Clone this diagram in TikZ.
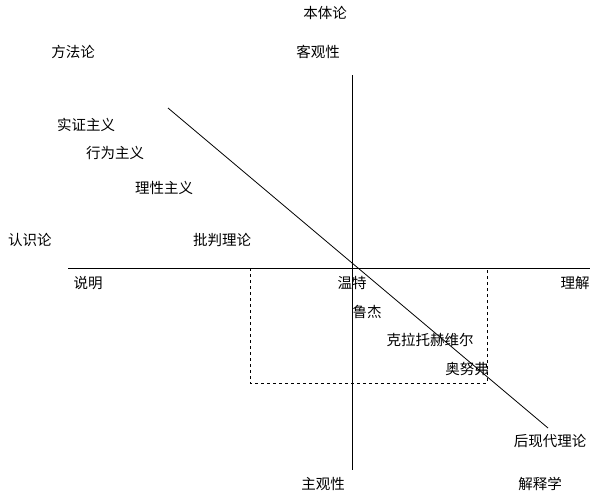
\documentclass[tikz,border=0pt]{standalone}
\usepackage{fontspec}
\newfontfamily\cjk{Noto Sans CJK SC}
\begin{document}
\begin{tikzpicture}[x=1pt,y=-1pt,lbl/.style={font=\cjk\fontsize{14.5}{16}\selectfont,inner sep=0pt}]
\useasboundingbox[fill=white] (0,0) rectangle (602,495);
\coordinate (vt) at (352,75); \coordinate (vb) at (352,470);
\coordinate (hl) at (68,268); \coordinate (hr) at (590,268);
\coordinate (d1) at (168,108); \coordinate (d2) at (548,428);
\draw[thick] (vt)--(vb); \draw[thick] (hl)--(hr); \draw[thick] (d1)--(d2);
\draw[dashed] (250,268)--(250,383)--(487,383)--(487,268);
\node[lbl] (a) at (325,13) {本体论};
\node[lbl] (b) at (318,52) {客观性};
\node[lbl] (c) at (73,52) {方法论};
\node[lbl] (d) at (86,125) {实证主义};
\node[lbl] (e) at (115,153) {行为主义};
\node[lbl] (f) at (164,188) {理性主义};
\node[lbl] (g) at (30,240) {认识论};
\node[lbl] (h) at (222,240) {批判理论};
\node[lbl] (i) at (88,283) {说明};
\node[lbl] (j) at (352,283) {温特};
\node[lbl] (k) at (575,283) {理解};
\node[lbl] (l) at (367,312) {鲁杰};
\node[lbl] (m) at (430,340) {克拉托赫维尔};
\node[lbl] (n) at (467,369) {奥努弗};
\node[lbl] (o) at (550,441) {后现代理论};
\node[lbl] (p) at (323,484) {主观性};
\node[lbl] (q) at (540,484) {解释学};
\end{tikzpicture}
\end{document}
